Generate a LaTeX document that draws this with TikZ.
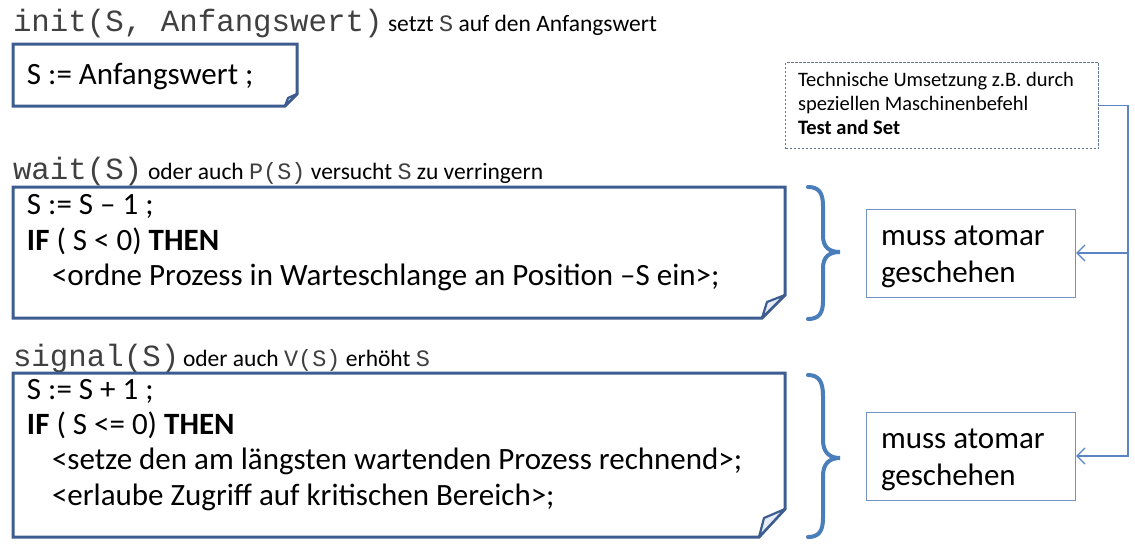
\documentclass[tikz,border=0pt]{standalone}
\usepackage{fontspec}
\setmainfont{Carlito}
\newfontfamily\monof{Liberation Mono}
\usetikzlibrary{arrows.meta}
\definecolor{boxblue}{HTML}{3D5D91}
\definecolor{braceblue}{HTML}{4A7EBB}
\definecolor{thinblue}{HTML}{7391C2}
\definecolor{connblue}{HTML}{5A84C4}
\definecolor{dashgray}{HTML}{5F7594}
\definecolor{titlegray}{HTML}{404040}
\definecolor{foldfill}{HTML}{E6ECF5}
\tikzset{
  txt/.style={anchor=base west, inner sep=0pt, outer sep=0pt},
  big/.style={txt, font=\fontsize{31}{33}\selectfont},
  small/.style={txt, font=\fontsize{23.5}{25}\selectfont},
  tiny/.style={txt, font=\fontsize{20.5}{22}\selectfont},
  title/.style={txt, font=\fontsize{30.8}{32}\selectfont\monof, text=titlegray},
  area/.style={anchor=north west, inner sep=0pt, outer sep=0pt, draw=none},
  boxline/.style={draw=boxblue, line width=3pt, line join=miter},
  foldline/.style={draw=boxblue, line width=2.2pt, fill=foldfill, line join=round},
  bracestyle/.style={draw=braceblue, line width=4pt, line cap=round},
  atombox/.style={anchor=north west, draw=thinblue, line width=1.2pt, inner sep=0pt, minimum width=209pt, minimum height=88pt},
  techbox/.style={anchor=north west, draw=dashgray, dashed, dash pattern=on 2.5pt off 1.5pt, line width=1pt, inner sep=0pt, minimum width=313pt, minimum height=86pt},
  conn/.style={draw=connblue, line width=1.5pt},
  tip/.style={-{Straight Barb[length=8pt,width=16pt,line width=1.2pt]}}
}
\newcommand{\sm}[1]{{\monof\color{titlegray}#1}}
\begin{document}
\begin{tikzpicture}[x=1pt,y=-1pt]
\useasboundingbox (0,0) rectangle (1135,546);

% ---------- init ----------
\node[title] (t1) at (13,31.5) {init(S, Anfangswert)};
\node[small] (t1b) at (388,31.5) {setzt \sm{S} auf den Anfangswert};
\node[area, minimum width=284pt, minimum height=62pt] (ib) at (13,44) {};
\draw[boxline] (ib.north west) -- (ib.north east) -- ([yshift=12pt]ib.south east) -- ([xshift=-12pt]ib.south east) -- (ib.south west) -- cycle;
\draw[foldline] ([xshift=-12pt]ib.south east) -- ([xshift=-9pt,yshift=8pt]ib.south east) -- ([yshift=12pt]ib.south east) -- cycle;
\node[big] (i1) at (27,84) {S := Anfangswert ;};

% ---------- wait ----------
\node[title] (t2) at (13,179) {wait(S)};
\node[small] (t2b) at (148,179) {oder auch \sm{P(S)} versucht \sm{S} zu verringern};
\node[area, minimum width=772pt, minimum height=131pt] (wb) at (13,187) {};
\draw[boxline] (wb.north west) -- (wb.north east) -- ([yshift=23pt]wb.south east) -- ([xshift=-23pt]wb.south east) -- (wb.south west) -- cycle;
\draw[foldline] ([xshift=-23pt]wb.south east) -- ([xshift=-18pt,yshift=16pt]wb.south east) -- ([yshift=23pt]wb.south east) -- cycle;
\node[big] (w1) at (27,214) {S := S – 1 ;};
\node[big] (w2) at (27,250) {\textbf{IF} ( S < 0) \textbf{THEN}};
\node[big] (w3) at (52,285) {<ordne Prozess in Warteschlange an Position –S ein>;};

% ---------- signal ----------
\node[title] (t3) at (13,366) {signal(S)};
\node[small] (t3b) at (183,366) {oder auch \sm{V(S)} erhöht \sm{S}};
\node[area, minimum width=772pt, minimum height=164pt] (sb) at (13,373) {};
\draw[boxline] (sb.north west) -- (sb.north east) -- ([yshift=28pt]sb.south east) -- ([xshift=-26pt]sb.south east) -- (sb.south west) -- cycle;
\draw[foldline] ([xshift=-26pt]sb.south east) -- ([xshift=-21pt,yshift=19pt]sb.south east) -- ([yshift=28pt]sb.south east) -- cycle;
\node[big] (s1) at (27,399) {S := S + 1 ;};
\node[big] (s2) at (27,434) {\textbf{IF} ( S <= 0) \textbf{THEN}};
\node[big] (s3) at (52,469) {<setze den am längsten wartenden Prozess rechnend>;};
\node[big] (s4) at (52,505) {<erlaube Zugriff auf kritischen Bereich>;};

% ---------- braces ----------
\draw[bracestyle] (808,187) .. controls (819,187) and (823,193) .. (823,206) -- (823,236) .. controls (823,247) and (829,252) .. (840,252)
  .. controls (829,252) and (823,257) .. (823,268) -- (823,301) .. controls (823,313) and (819,319) .. (808,319);
\draw[bracestyle] (808,375) .. controls (819,375) and (823,382) .. (823,396) -- (823,440) .. controls (823,452) and (829,458) .. (840,458)
  .. controls (829,458) and (823,464) .. (823,476) -- (823,518) .. controls (823,531) and (819,537) .. (808,537);

% ---------- right side ----------
\node[atombox] (a1) at (866,209) {};
\node[big] (a1t1) at (881,245) {muss atomar};
\node[big] (a1t2) at (881,282) {geschehen};
\node[atombox] (a2) at (866,412) {};
\node[big] (a2t1) at (881,448) {muss atomar};
\node[big] (a2t2) at (881,485) {geschehen};

\node[techbox] (tb) at (785,62) {};
\node[tiny] (tb1) at (798,86) {Technische Umsetzung z.B. durch};
\node[tiny] (tb2) at (798,110) {speziellen Maschinenbefehl};
\node[tiny] (tb3) at (798,134) {\textbf{Test and Set}};

\coordinate (j1) at (1128,253);
\coordinate (j2) at (1128,456);
\draw[conn, tip] (tb.east) -| (j2) -- (a2.east |- j2);
\draw[conn, tip] (j1) -- (a1.east |- j1);
\end{tikzpicture}
\end{document}
